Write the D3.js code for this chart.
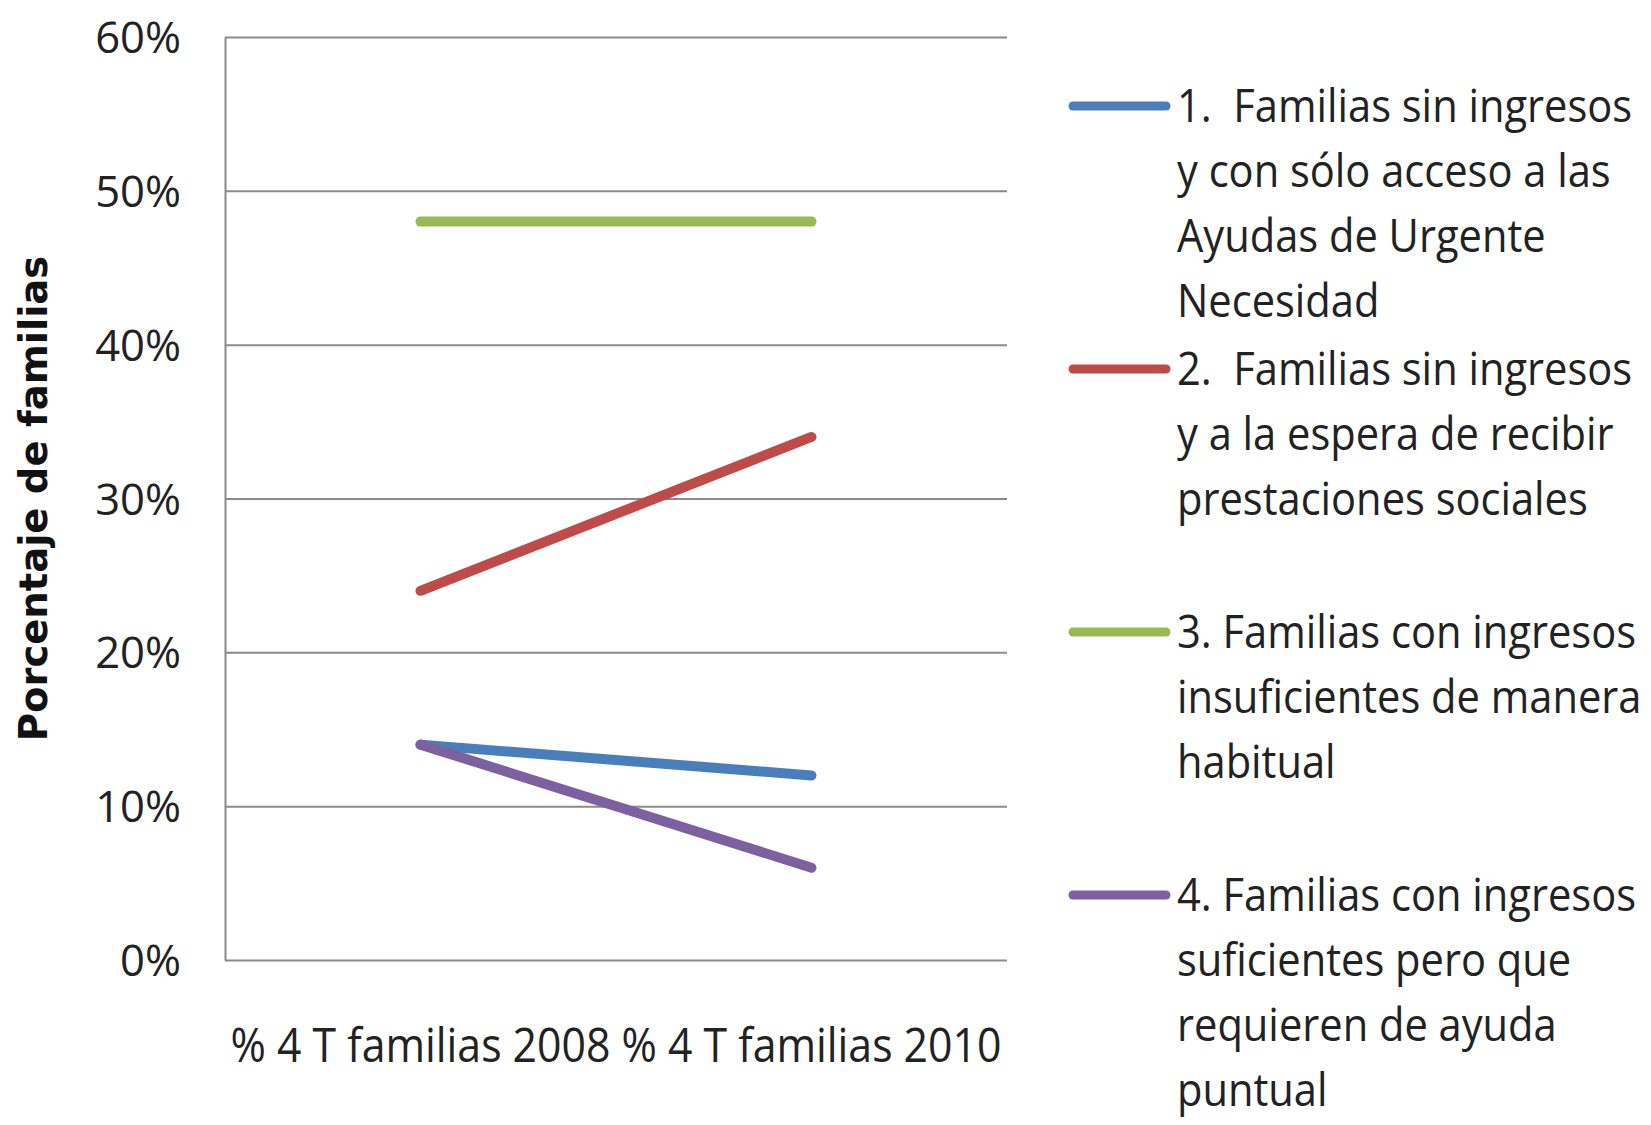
<!DOCTYPE html>
<html>
<head>
<meta charset="utf-8">
<script src="https://cdn.jsdelivr.net/npm/d3@7"></script>
<style>
  body { margin: 0; background: #fff; }
  text { font-family: "Open Sans", "Liberation Sans", Arial, sans-serif; fill: #222; white-space: pre; }
</style>
</head>
<body>
<div id="chart"></div>
<script>
// data
var categories = ["% 4 T familias 2008", "% 4 T familias 2010"];
var seriesNames = [
    "1.  Familias sin ingresos y con sólo acceso a las Ayudas de Urgente Necesidad",
    "2.  Familias sin ingresos y a la espera de recibir prestaciones sociales",
    "3. Familias con ingresos insuficientes de manera habitual",
    "4. Familias con ingresos suficientes pero que requieren de ayuda puntual"
];
// legend wrapping as in the original
var legendLines = [
    ["1.  Familias sin ingresos", "y con sólo acceso a las", "Ayudas de Urgente", "Necesidad"],
    ["2.  Familias sin ingresos", "y a la espera de recibir", "prestaciones sociales"],
    ["3. Familias con ingresos", "insuficientes de manera", "habitual"],
    ["4. Familias con ingresos", "suficientes pero que", "requieren de ayuda", "puntual"]
];
var values1 = [0.14, 0.12];
var values2 = [0.24, 0.34];
var values3 = [0.48, 0.48];
var values4 = [0.14, 0.06];
var yTicks = [0, 0.1, 0.2, 0.3, 0.4, 0.5, 0.6];
var colors = ["#4a7ebb", "#be4b48", "#98b954", "#7d60a0"];

var allValues = [values1, values2, values3, values4];

var W = 1651, H = 1125;
var margin = {top: 37, left: 225, right: 644, bottom: 165};
var plotW = W - margin.left - margin.right,
    plotH = H - margin.top - margin.bottom;

var svg = d3.select("#chart")
    .append("svg")
    .attr("width", W)
    .attr("height", H);

var g = svg.append("g")
    .attr("transform", "translate(" + margin.left + "," + margin.top + ")");

var x = d3.scaleBand()
    .domain(categories)
    .range([0, plotW]);

var y = d3.scaleLinear()
    .domain([0, 0.6])
    .range([plotH, 0]);

// gridlines + y tick labels
var yAxis = g.append("g")
    .call(d3.axisLeft(y)
        .tickValues(yTicks)
        .tickFormat(d3.format(".0%"))
        .tickSize(-plotW)
        .tickSizeOuter(0));

yAxis.select(".domain")
    .attr("stroke", "#8a8a8a")
    .attr("stroke-width", 2);

yAxis.selectAll(".tick line")
    .attr("stroke", "#8a8a8a")
    .attr("stroke-width", 2);

yAxis.selectAll(".tick text")
    .attr("x", null)
    .attr("dy", null)
    .attr("text-anchor", "end")
    .attr("transform", "translate(-44,15.5) scale(0.99,1)")
    .style("font-size", "44px")
    .style("font-family", "'Open Sans', 'Liberation Sans', sans-serif")
    .attr("fill", "#222");

// x labels
g.selectAll(".xlabel")
    .data(categories)
    .enter()
    .append("text")
    .attr("class", "xlabel")
    .attr("text-anchor", "middle")
    .attr("transform", function(d) {
        return "translate(" + (x(d) + x.bandwidth() / 2) + "," + (1062 - margin.top) + ") scale(0.91,1)";
    })
    .style("font-size", "47px")
    .text(function(d) { return d; });

// y axis title
svg.append("text")
    .attr("text-anchor", "middle")
    .attr("transform", "translate(47," + (margin.top + plotH / 2) + ") rotate(-90)")
    .style("font-family", "'DejaVu Sans', Verdana, sans-serif")
    .style("font-weight", "bold")
    .style("font-size", "38.5px")
    .style("fill", "#111")
    .text("Porcentaje de familias");

// series lines
var line = d3.line()
    .x(function(d, i) { return x(categories[i]) + x.bandwidth() / 2; })
    .y(function(d) { return y(d); });

g.selectAll(".series")
    .data(allValues)
    .enter()
    .append("path")
    .attr("class", "series")
    .attr("fill", "none")
    .attr("stroke", function(d, i) { return colors[i]; })
    .attr("stroke-width", 10)
    .attr("stroke-linecap", "round")
    .attr("d", line);

// legend
var legendTop = 106, entryH = 263, rowH = 65;

var legend = svg.append("g")
    .attr("class", "legend");

var entry = legend.selectAll(".entry")
    .data(seriesNames)
    .enter()
    .append("g")
    .attr("class", "entry")
    .attr("transform", function(d, i) { return "translate(0," + (legendTop + i * entryH) + ")"; });

entry.append("line")
    .attr("x1", 1073)
    .attr("x2", 1166)
    .attr("y1", 0)
    .attr("y2", 0)
    .attr("stroke", function(d, i) { return colors[i]; })
    .attr("stroke-width", 9)
    .attr("stroke-linecap", "round");

entry.each(function(d, i) {
    d3.select(this).selectAll("text")
        .data(legendLines[i])
        .enter()
        .append("text")
        .attr("transform", function(t, j) {
            return "translate(1177," + (16 + j * rowH) + ") scale(0.905,1)";
        })
        .style("font-size", "46px")
        .text(function(t) { return t; });
});
</script>
</body>
</html>
